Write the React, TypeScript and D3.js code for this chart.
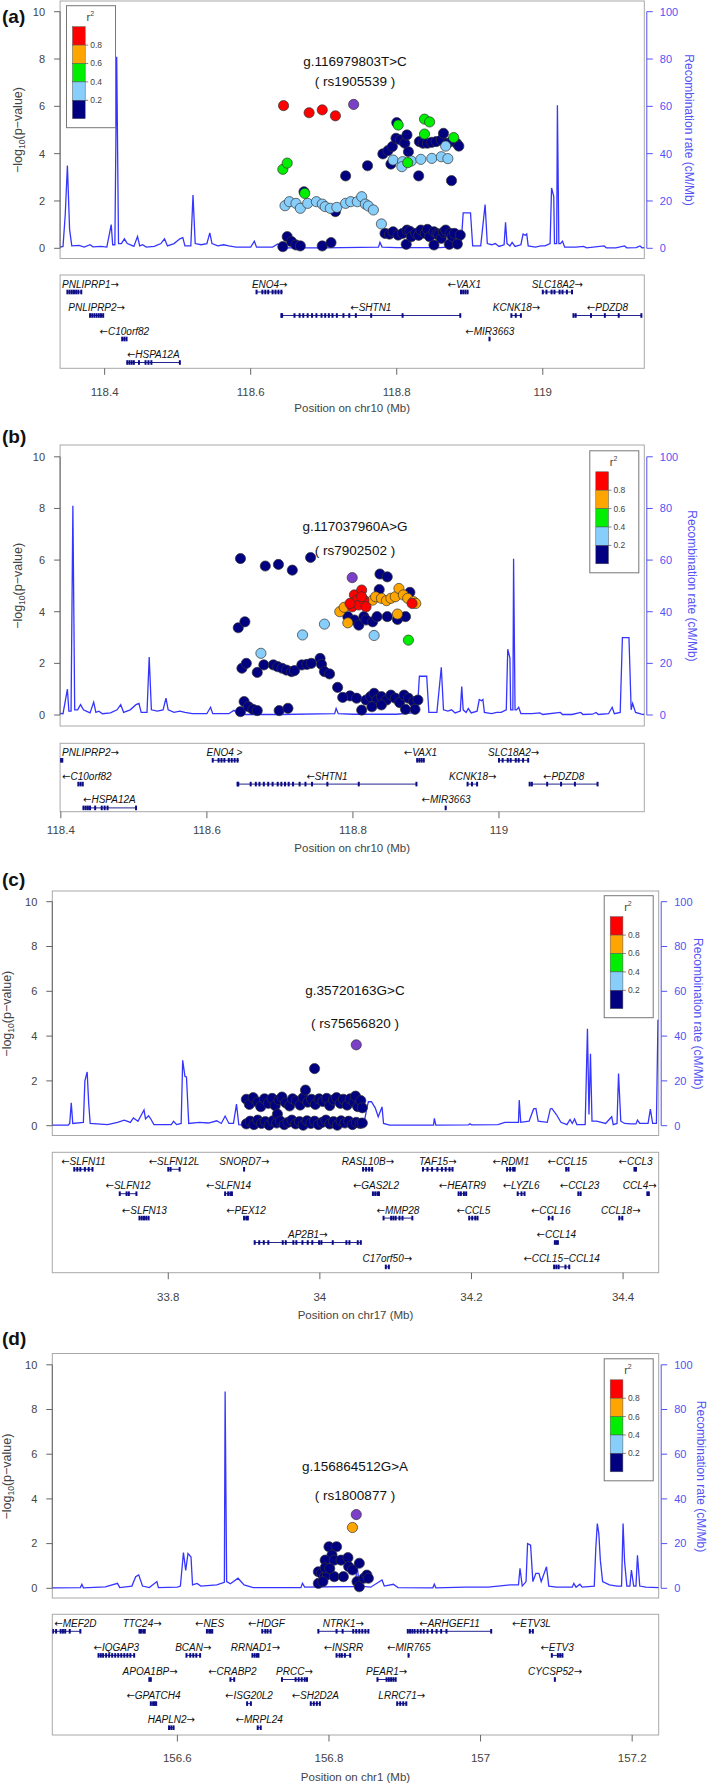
import React from "react";
import * as d3 from "d3";

// ---------------- DATA ----------------
const Y_TICKS = [0, 2, 4, 6, 8, 10];
const RECOMB_TICKS = [0, 20, 40, 60, 80, 100];
const R2_BREAKS = [0.2, 0.4, 0.6, 0.8];
const R2_COLORS = ["#000080", "#87CEFA", "#00EE00", "#FFA500", "#FF0000"];
const INDEX_COLOR = "#7B3FC8";

const X_TICKS_A = [118.4, 118.6, 118.8, 119];
const X_TICKS_B = [118.4, 118.6, 118.8, 119];
const X_TICKS_C = [33.8, 34, 34.2, 34.4];
const X_TICKS_D = [156.6, 156.8, 157, 157.2];

// recombination rate (Mb, cM/Mb)
const RECOMB_CHR10: [number, number][] = [
  [118.339, 0.5], [118.343, 0.8], [118.346, 14], [118.349, 35], [118.352, 8], [118.355, 1],
  [118.365, 1.2], [118.372, 0.5], [118.380, 1.5], [118.384, 0.6], [118.395, 0.8], [118.403, 0.5],
  [118.409, 10], [118.411, 1.5], [118.414, 1.5], [118.4165, 81], [118.419, 2], [118.423, 2],
  [118.427, 4], [118.431, 2], [118.437, 1.2], [118.440, 0.8], [118.445, 5], [118.448, 1],
  [118.452, 1.5], [118.457, 0.5], [118.468, 0.8], [118.477, 2], [118.482, 4], [118.486, 1],
  [118.495, 2], [118.503, 4], [118.507, 4.5], [118.510, 1], [118.518, 1], [118.521, 22.5],
  [118.524, 2], [118.532, 1.5], [118.540, 2], [118.544, 6.5], [118.547, 2], [118.555, 1],
  [118.563, 1.5], [118.570, 1], [118.580, 0.5], [118.600, 0.5], [118.605, 3], [118.608, 0.5],
  [118.630, 0.5], [118.637, 1.8], [118.645, 0.2], [118.700, 0.2], [118.775, 0.5], [118.777, 2.5],
  [118.780, 0.5], [118.800, 0.3], [118.860, 0.3], [118.888, 1], [118.891, 15], [118.901, 15],
  [118.904, 1], [118.915, 1], [118.921, 18.5], [118.924, 2], [118.930, 1.5], [118.935, 2],
  [118.940, 0.8], [118.947, 1.5], [118.949, 11], [118.951, 2], [118.955, 1], [118.958, 2.5],
  [118.962, 0.8], [118.970, 1.5], [118.973, 6], [118.976, 5.5], [118.978, 6], [118.980, 1],
  [118.990, 0.5], [118.997, 1], [119.003, 1], [119.010, 2], [119.012, 25.5], [119.015, 22],
  [119.016, 2], [119.019, 2], [119.020, 60.5], [119.022, 2], [119.024, 2], [119.027, 3],
  [119.030, 0.5], [119.045, 0.5], [119.056, 0.8], [119.060, 0.2], [119.084, 1], [119.087, 0.2],
  [119.100, 0.2], [119.112, 1], [119.115, 0.2], [119.128, 0.3], [119.133, 1], [119.136, 0.2],
  [119.150, 0.5], [119.155, 3], [119.158, 0.5], [119.166, 1], [119.169, 30], [119.178, 30],
  [119.181, 2], [119.183, 4.5], [119.187, 1], [119.195, 0.3], [119.199, 0.2],
];

const RECOMB_CHR17: [number, number][] = [
  [33.647, 0.3], [33.668, 0.3], [33.670, 1], [33.672, 10.2], [33.674, 1], [33.688, 1.5],
  [33.690, 20], [33.693, 24], [33.695, 10], [33.697, 1], [33.720, 0.5], [33.733, 1.5],
  [33.742, 2.5], [33.750, 1.5], [33.754, 3.5], [33.760, 2], [33.768, 7], [33.770, 3],
  [33.774, 4.4], [33.777, 3], [33.781, 0.5], [33.804, 0.5], [33.807, 2], [33.811, 0.5],
  [33.817, 1], [33.819, 29.2], [33.822, 22], [33.824, 21.8], [33.827, 1], [33.841, 1.5],
  [33.853, 1.2], [33.864, 2.2], [33.870, 1], [33.875, 4.3], [33.880, 1], [33.886, 1],
  [33.890, 9.6], [33.893, 0.5], [33.900, 0.3], [34.000, 0.3], [34.058, 0.5], [34.062, 8],
  [34.064, 10.7], [34.068, 10.7], [34.073, 8], [34.077, 4], [34.082, 8.4], [34.084, 1],
  [34.092, 0.3], [34.150, 0.3], [34.151, 3.3], [34.153, 0.3], [34.196, 0.4], [34.198, 0.9],
  [34.200, 0.4], [34.235, 0.5], [34.244, 1.5], [34.262, 1.5], [34.263, 11.4], [34.265, 1.5],
  [34.276, 2], [34.282, 7.5], [34.285, 7.7], [34.288, 2], [34.300, 1.5], [34.304, 7.5],
  [34.306, 7.7], [34.312, 5], [34.318, 1.5], [34.326, 0.5], [34.330, 2.8], [34.333, 1],
  [34.336, 3], [34.339, 0.5], [34.350, 0.5], [34.353, 43.3], [34.355, 5], [34.357, 32.1],
  [34.359, 2], [34.365, 2], [34.377, 1], [34.385, 4], [34.387, 0.5], [34.392, 1],
  [34.394, 23.3], [34.397, 2], [34.402, 1], [34.410, 0.8], [34.417, 0.8], [34.419, 2.5],
  [34.422, 1], [34.433, 1], [34.436, 7.4], [34.439, 1], [34.444, 1], [34.446, 47], [34.447, 47],
];

const RECOMB_CHR1: [number, number][] = [
  [156.435, 0.2], [156.472, 0.3], [156.474, 1.8], [156.476, 0.2], [156.505, 0.6], [156.521, 2.2],
  [156.524, 0.3], [156.540, 1], [156.545, 5.2], [156.549, 6], [156.554, 1], [156.563, 0.3],
  [156.573, 3], [156.575, 0.3], [156.600, 0.5], [156.604, 1], [156.608, 16], [156.611, 8],
  [156.614, 15.6], [156.618, 14], [156.620, 1.5], [156.626, 2.2], [156.631, 1], [156.652, 1.5],
  [156.662, 2.7], [156.663, 88], [156.665, 3], [156.670, 2], [156.680, 4.5], [156.688, 1.5],
  [156.700, 0.3], [156.763, 0.3], [156.765, 2.2], [156.768, 0.5], [156.835, 0.8],
  [156.837, 11], [156.840, 1], [156.855, 0.5], [156.870, 3.7], [156.873, 1], [156.885, 1.8],
  [156.891, 0.3], [156.937, 0.2], [156.939, 1.8], [156.941, 0.2], [156.980, 0.5], [157.010, 0.5],
  [157.039, 1.5], [157.050, 1.5], [157.052, 8.9], [157.055, 1], [157.060, 3], [157.062, 20],
  [157.066, 19.3], [157.069, 3], [157.073, 6.7], [157.077, 6.7], [157.080, 3], [157.087, 9.6],
  [157.090, 1], [157.100, 0.5], [157.121, 0.5], [157.123, 2.2], [157.126, 0.5], [157.131, 1.8],
  [157.134, 0.5], [157.150, 1], [157.152, 17.8], [157.154, 29], [157.156, 24.5], [157.158, 12.6],
  [157.161, 3], [157.170, 1.5], [157.180, 1], [157.186, 1], [157.188, 29], [157.190, 11.9],
  [157.193, 1], [157.197, 1], [157.199, 8.2], [157.202, 1], [157.205, 1], [157.207, 14.8],
  [157.210, 1], [157.218, 0.5], [157.235, 0.3],
];

// SNPs: [position Mb, -log10 p, r2]
const SNPS_A: [number, number, number][] = [
  [118.644, 0.07, 0.1], [118.650, 0.49, 0.1], [118.656, 0.28, 0.1], [118.662, 0.14, 0.1], [118.668, 0.1, 0.1],
  [118.698, 0.1, 0.1], [118.710, 0.24, 0.1],
  [118.784, 0.63, 0.1], [118.790, 0.6, 0.1], [118.795, 0.7, 0.1], [118.802, 0.56, 0.1], [118.808, 0.63, 0.1],
  [118.814, 0.77, 0.1], [118.813, 0.17, 0.1], [118.818, 0.72, 0.1], [118.820, 0.49, 0.1], [118.826, 0.63, 0.1],
  [118.830, 0.55, 0.1], [118.833, 0.77, 0.1], [118.839, 0.63, 0.1], [118.842, 0.8, 0.1], [118.845, 0.49, 0.1],
  [118.851, 0.7, 0.1], [118.851, 0.14, 0.1], [118.855, 0.62, 0.1], [118.857, 0.56, 0.1], [118.861, 0.42, 0.1],
  [118.864, 0.68, 0.1], [118.867, 0.77, 0.1], [118.873, 0.63, 0.1], [118.872, 0.17, 0.1], [118.876, 0.5, 0.1],
  [118.879, 0.63, 0.1], [118.887, 0.56, 0.1], [118.883, 0.18, 0.1],
  [118.716, 1.55, 0.1], [118.673, 2.39, 0.1], [118.730, 3.06, 0.1], [118.760, 3.49, 0.1],
  [118.830, 3.06, 0.1], [118.875, 2.86, 0.1], [118.800, 5.31, 0.1], [118.781, 3.99, 0.1], [118.788, 4.13, 0.1],
  [118.794, 4.3, 0.1], [118.799, 4.65, 0.1], [118.805, 4.58, 0.1], [118.811, 4.44, 0.1], [118.814, 4.79, 0.1],
  [118.816, 4.08, 0.1], [118.792, 3.56, 0.1], [118.831, 4.51, 0.1], [118.836, 4.44, 0.1], [118.842, 4.44, 0.1],
  [118.848, 4.48, 0.1], [118.854, 4.51, 0.1], [118.861, 4.58, 0.1], [118.864, 4.86, 0.1], [118.870, 4.44, 0.1],
  [118.876, 4.55, 0.1], [118.882, 4.44, 0.1], [118.885, 4.32, 0.1],
  [118.647, 1.8, 0.3], [118.653, 1.97, 0.3], [118.662, 1.9, 0.3], [118.668, 1.69, 0.3], [118.678, 1.9, 0.3],
  [118.690, 1.97, 0.3], [118.698, 1.87, 0.3], [118.702, 1.76, 0.3], [118.709, 1.69, 0.3], [118.718, 1.73, 0.3],
  [118.730, 1.9, 0.3], [118.737, 1.97, 0.3], [118.746, 1.97, 0.3], [118.752, 2.18, 0.3], [118.757, 1.87, 0.3],
  [118.761, 1.79, 0.3], [118.768, 1.62, 0.3], [118.779, 1.03, 0.3], [118.795, 3.73, 0.3], [118.808, 3.66, 0.3],
  [118.807, 3.45, 0.3], [118.820, 3.69, 0.3], [118.833, 3.76, 0.3], [118.848, 3.8, 0.3], [118.861, 3.87, 0.3],
  [118.870, 3.79, 0.3], [118.867, 4.32, 0.3],
  [118.644, 3.34, 0.5], [118.650, 3.6, 0.5], [118.674, 2.32, 0.5], [118.802, 5.21, 0.5], [118.838, 5.46, 0.5],
  [118.845, 5.34, 0.5], [118.838, 4.83, 0.5], [118.878, 4.68, 0.5], [118.815, 3.62, 0.5],
  [118.645, 6.03, 0.9], [118.680, 5.73, 0.9], [118.698, 5.85, 0.9], [118.716, 5.6, 0.9],
];
const INDEX_A: [number, number] = [118.741, 6.08];

const SNPS_B: [number, number, number][] = [
  [118.646, 0.13, 0.1], [118.651, 0.52, 0.1], [118.657, 0.32, 0.1], [118.663, 0.22, 0.1], [118.669, 0.17, 0.1],
  [118.699, 0.17, 0.1], [118.711, 0.26, 0.1],
  [118.796, 0.74, 0.1], [118.805, 0.65, 0.1], [118.812, 0.19, 0.1], [118.818, 0.58, 0.1], [118.824, 0.71, 0.1],
  [118.829, 0.84, 0.1], [118.833, 0.58, 0.1], [118.839, 0.71, 0.1], [118.846, 0.58, 0.1], [118.852, 0.77, 0.1],
  [118.858, 0.65, 0.1], [118.864, 0.48, 0.1], [118.870, 0.77, 0.1], [118.876, 0.65, 0.1], [118.883, 0.52, 0.1],
  [118.889, 0.58, 0.1], [118.872, 0.22, 0.1], [118.885, 0.22, 0.1], [118.826, 0.32, 0.1], [118.839, 0.39, 0.1],
  [118.648, 1.81, 0.1], [118.654, 2.0, 0.1], [118.669, 1.65, 0.1], [118.678, 1.94, 0.1], [118.691, 1.94, 0.1],
  [118.697, 1.87, 0.1], [118.703, 1.81, 0.1], [118.709, 1.74, 0.1], [118.716, 1.68, 0.1], [118.720, 1.72, 0.1],
  [118.730, 1.94, 0.1], [118.737, 1.96, 0.1], [118.743, 2.0, 0.1], [118.755, 2.19, 0.1], [118.757, 1.96, 0.1],
  [118.761, 1.68, 0.1], [118.768, 1.59, 0.1], [118.779, 1.07, 0.1], [118.786, 0.68, 0.1],
  [118.646, 6.06, 0.1], [118.680, 5.77, 0.1], [118.698, 5.83, 0.1], [118.717, 5.61, 0.1], [118.742, 6.1, 0.1],
  [118.643, 3.38, 0.1], [118.652, 3.61, 0.1], [118.837, 5.46, 0.1], [118.847, 5.35, 0.1], [118.836, 4.86, 0.1],
  [118.878, 4.75, 0.1], [118.793, 3.81, 0.1], [118.802, 3.68, 0.1], [118.808, 3.48, 0.1], [118.815, 3.81, 0.1],
  [118.818, 3.68, 0.1], [118.827, 3.61, 0.1], [118.833, 3.81, 0.1], [118.847, 3.81, 0.1], [118.861, 3.70, 0.1],
  [118.872, 3.81, 0.1],
  [118.674, 2.39, 0.3], [118.731, 3.1, 0.3], [118.761, 3.52, 0.3], [118.829, 3.08, 0.3],
  [118.876, 2.9, 0.5],
  [118.782, 4.0, 0.7], [118.788, 4.17, 0.7], [118.793, 3.57, 0.7], [118.827, 4.45, 0.7], [118.831, 4.58, 0.7],
  [118.839, 4.52, 0.7], [118.846, 4.43, 0.7], [118.852, 4.52, 0.7], [118.858, 4.58, 0.7], [118.863, 4.9, 0.7],
  [118.869, 4.65, 0.7], [118.875, 4.52, 0.7], [118.883, 4.39, 0.7], [118.886, 4.32, 0.7], [118.861, 3.91, 0.7],
  [118.802, 4.65, 0.9], [118.812, 4.84, 0.9], [118.805, 4.45, 0.9], [118.799, 4.19, 0.9], [118.808, 4.26, 0.9],
  [118.815, 4.45, 0.9], [118.818, 4.19, 0.9], [118.796, 4.32, 0.9], [118.812, 4.58, 0.9], [118.881, 4.32, 0.9],
];
const INDEX_B: [number, number] = [118.799, 5.32];

const SNPS_C: [number, number, number][] = [
  [33.903, 1.18, 0.1], [33.907, 0.95, 0.1], [33.912, 1.25, 0.1], [33.918, 1.05, 0.1], [33.922, 0.85, 0.1],
  [33.927, 1.2, 0.1], [33.932, 1.0, 0.1], [33.937, 1.22, 0.1], [33.941, 0.9, 0.1], [33.946, 1.15, 0.1],
  [33.950, 1.28, 0.1], [33.955, 1.02, 0.1], [33.960, 0.88, 0.1], [33.964, 1.2, 0.1], [33.969, 1.1, 0.1],
  [33.974, 0.92, 0.1], [33.978, 1.25, 0.1], [33.981, 1.59, 0.1], [33.984, 1.05, 0.1], [33.989, 1.18, 0.1],
  [33.993, 2.55, 0.1], [33.994, 0.95, 0.1], [33.999, 1.2, 0.1], [34.004, 1.08, 0.1], [34.009, 1.22, 0.1],
  [34.013, 0.9, 0.1], [34.018, 1.15, 0.1], [34.022, 1.25, 0.1], [34.027, 1.0, 0.1], [34.031, 1.18, 0.1],
  [34.036, 0.92, 0.1], [34.040, 1.2, 0.1], [34.045, 1.05, 0.1], [34.047, 1.32, 0.1], [34.050, 0.85, 0.1],
  [34.054, 1.12, 0.1], [34.056, 0.8, 0.1],
  [33.903, 0.08, 0.1], [33.908, 0.2, 0.1], [33.913, 0.05, 0.1], [33.918, 0.25, 0.1], [33.923, 0.1, 0.1],
  [33.928, 0.18, 0.1], [33.933, 0.03, 0.1], [33.938, 0.22, 0.1], [33.943, 0.12, 0.1], [33.944, 0.52, 0.1],
  [33.948, 0.2, 0.1], [33.953, 0.05, 0.1], [33.958, 0.15, 0.1], [33.963, 0.25, 0.1], [33.968, 0.08, 0.1],
  [33.973, 0.18, 0.1], [33.978, 0.02, 0.1], [33.983, 0.22, 0.1], [33.988, 0.1, 0.1], [33.993, 0.2, 0.1],
  [33.998, 0.05, 0.1], [34.003, 0.15, 0.1], [34.008, 0.25, 0.1], [34.013, 0.08, 0.1], [34.018, 0.18, 0.1],
  [34.023, 0.02, 0.1], [34.028, 0.22, 0.1], [34.033, 0.12, 0.1], [34.038, 0.2, 0.1], [34.043, 0.05, 0.1],
  [34.048, 0.15, 0.1], [34.053, 0.1, 0.1], [34.056, 0.12, 0.1],
];
const INDEX_C: [number, number] = [34.048, 3.61];

const SNPS_D: [number, number, number][] = [
  [156.800, 1.86, 0.1], [156.810, 1.86, 0.1], [156.804, 1.49, 0.1], [156.795, 1.26, 0.1], [156.807, 1.26, 0.1],
  [156.816, 1.26, 0.1], [156.825, 1.37, 0.1], [156.826, 0.97, 0.1], [156.831, 0.82, 0.1], [156.840, 1.12, 0.1],
  [156.786, 0.74, 0.1], [156.790, 0.67, 0.1], [156.794, 0.52, 0.1], [156.798, 0.62, 0.1], [156.786, 0.22, 0.1],
  [156.792, 0.3, 0.1], [156.807, 0.52, 0.1], [156.819, 0.52, 0.1], [156.837, 0.3, 0.1], [156.840, 0.07, 0.1],
  [156.846, 0.45, 0.1], [156.850, 0.59, 0.1], [156.852, 0.45, 0.1], [156.795, 0.92, 0.1], [156.801, 0.89, 0.1],
  [156.831, 2.72, 0.7],
];
const INDEX_D: [number, number] = [156.836, 3.30];

type Gene = { name: string; start: number; end: number; strand: number; track: number; exons: number[]; text?: string };

const GENES_A: Gene[] = [
  { name: "PNLIPRP1", start: 118.349, end: 118.368, strand: 1, track: 0, exons: [118.349, 118.352, 118.355, 118.358, 118.361, 118.364, 118.368] },
  { name: "ENO4", start: 118.608, end: 118.644, strand: 1, track: 0, exons: [118.608, 118.616, 118.620, 118.624, 118.630, 118.634, 118.638, 118.642] },
  { name: "VAX1", start: 118.887, end: 118.898, strand: -1, track: 0, exons: [118.888, 118.891, 118.894, 118.897] },
  { name: "SLC18A2", start: 119.000, end: 119.040, strand: 1, track: 0, exons: [119.000, 119.005, 119.012, 119.016, 119.023, 119.027, 119.033, 119.040] },
  { name: "PNLIPRP2", start: 118.380, end: 118.398, strand: 1, track: 1, exons: [118.380, 118.383, 118.386, 118.389, 118.392, 118.395, 118.398] },
  { name: "SHTN1", start: 118.642, end: 118.887, strand: -1, track: 1, exons: [118.642, 118.643, 118.660, 118.667, 118.672, 118.678, 118.684, 118.690, 118.697, 118.702, 118.707, 118.712, 118.718, 118.727, 118.735, 118.744, 118.765, 118.808, 118.887] },
  { name: "KCNK18", start: 118.957, end: 118.971, strand: 1, track: 1, exons: [118.957, 118.963, 118.970] },
  { name: "PDZD8", start: 119.042, end: 119.135, strand: -1, track: 1, exons: [119.042, 119.045, 119.066, 119.085, 119.104, 119.135] },
  { name: "C10orf82", start: 118.424, end: 118.430, strand: -1, track: 2, exons: [118.424, 118.427, 118.430] },
  { name: "MIR3663", start: 118.927, end: 118.928, strand: -1, track: 2, exons: [118.927] },
  { name: "HSPA12A", start: 118.430, end: 118.503, strand: -1, track: 3, exons: [118.431, 118.434, 118.437, 118.440, 118.447, 118.456, 118.460, 118.464, 118.503] },
];

const GENES_B: Gene[] = [
  { name: "PNLIPRP2", start: 118.380, end: 118.402, strand: 1, track: 0, exons: [118.380, 118.383, 118.386, 118.389, 118.392, 118.395, 118.400, 118.402] },
  { name: "ENO4", text: "ENO4  >", start: 118.608, end: 118.644, strand: 1, track: 0, exons: [118.608, 118.616, 118.620, 118.624, 118.630, 118.634, 118.638, 118.642] },
  { name: "VAX1", start: 118.887, end: 118.898, strand: -1, track: 0, exons: [118.888, 118.891, 118.894, 118.897] },
  { name: "SLC18A2", start: 119.000, end: 119.040, strand: 1, track: 0, exons: [119.000, 119.005, 119.012, 119.016, 119.023, 119.027, 119.033, 119.040] },
  { name: "C10orf82", start: 118.424, end: 118.430, strand: -1, track: 1, exons: [118.424, 118.427, 118.430] },
  { name: "SHTN1", start: 118.642, end: 118.887, strand: -1, track: 1, exons: [118.642, 118.643, 118.660, 118.667, 118.672, 118.678, 118.684, 118.690, 118.697, 118.702, 118.707, 118.712, 118.718, 118.727, 118.735, 118.744, 118.765, 118.808, 118.887] },
  { name: "KCNK18", start: 118.957, end: 118.971, strand: 1, track: 1, exons: [118.957, 118.963, 118.970] },
  { name: "PDZD8", start: 119.042, end: 119.135, strand: -1, track: 1, exons: [119.042, 119.045, 119.066, 119.085, 119.104, 119.135] },
  { name: "HSPA12A", start: 118.430, end: 118.503, strand: -1, track: 2, exons: [118.431, 118.434, 118.437, 118.440, 118.447, 118.456, 118.460, 118.464, 118.503] },
  { name: "MIR3663", start: 118.927, end: 118.928, strand: -1, track: 2, exons: [118.927] },
];

const GENES_C: Gene[] = [
  { name: "SLFN11", start: 33.676, end: 33.700, strand: -1, track: 0, exons: [33.676, 33.680, 33.684, 33.690, 33.695, 33.700] },
  { name: "SLFN12L", start: 33.800, end: 33.815, strand: -1, track: 0, exons: [33.800, 33.803, 33.815] },
  { name: "SNORD7", start: 33.900, end: 33.9005, strand: 1, track: 0, exons: [33.900] },
  { name: "RASL10B", start: 34.057, end: 34.070, strand: 1, track: 0, exons: [34.057, 34.061, 34.065, 34.069] },
  { name: "TAF15", start: 34.136, end: 34.175, strand: 1, track: 0, exons: [34.136, 34.142, 34.148, 34.155, 34.161, 34.166, 34.171, 34.175] },
  { name: "RDM1", start: 34.247, end: 34.257, strand: -1, track: 0, exons: [34.247, 34.251, 34.255, 34.257] },
  { name: "CCL15", start: 34.325, end: 34.328, strand: -1, track: 0, exons: [34.325, 34.328] },
  { name: "CCL3", start: 34.415, end: 34.418, strand: -1, track: 0, exons: [34.415, 34.417] },
  { name: "SLFN12", start: 33.736, end: 33.758, strand: -1, track: 1, exons: [33.736, 33.745, 33.748, 33.758] },
  { name: "SLFN14", start: 33.875, end: 33.884, strand: -1, track: 1, exons: [33.875, 33.879, 33.882, 33.884] },
  { name: "GAS2L2", start: 34.070, end: 34.078, strand: -1, track: 1, exons: [34.070, 34.073, 34.076, 34.078] },
  { name: "HEATR9", start: 34.183, end: 34.193, strand: -1, track: 1, exons: [34.183, 34.186, 34.190, 34.193] },
  { name: "LYZL6", start: 34.261, end: 34.270, strand: -1, track: 1, exons: [34.261, 34.266, 34.270] },
  { name: "CCL23", start: 34.341, end: 34.344, strand: -1, track: 1, exons: [34.341, 34.344] },
  { name: "CCL4", start: 34.432, end: 34.434, strand: 1, track: 1, exons: [34.432, 34.434] },
  { name: "SLFN13", start: 33.762, end: 33.775, strand: -1, track: 2, exons: [33.762, 33.765, 33.768, 33.771, 33.774] },
  { name: "PEX12", start: 33.900, end: 33.905, strand: -1, track: 2, exons: [33.900, 33.903, 33.905] },
  { name: "MMP28", start: 34.084, end: 34.122, strand: -1, track: 2, exons: [34.084, 34.094, 34.097, 34.100, 34.105, 34.109, 34.122] },
  { name: "CCL5", start: 34.197, end: 34.208, strand: -1, track: 2, exons: [34.197, 34.201, 34.205, 34.208] },
  { name: "CCL16", start: 34.302, end: 34.307, strand: -1, track: 2, exons: [34.302, 34.307] },
  { name: "CCL18", start: 34.395, end: 34.399, strand: 1, track: 2, exons: [34.395, 34.399] },
  { name: "AP2B1", start: 33.914, end: 34.054, strand: 1, track: 3, exons: [33.914, 33.920, 33.926, 33.932, 33.951, 33.955, 33.965, 33.969, 33.977, 33.984, 33.990, 33.999, 34.002, 34.017, 34.035, 34.039, 34.050, 34.054] },
  { name: "CCL14", start: 34.310, end: 34.314, strand: -1, track: 3, exons: [34.310, 34.312, 34.314] },
  { name: "C17orf50", start: 34.087, end: 34.091, strand: 1, track: 4, exons: [34.087, 34.091] },
  { name: "CCL15\u2212CCL14", start: 34.309, end: 34.329, strand: -1, track: 4, exons: [34.309, 34.312, 34.315, 34.324, 34.329] },
];

const GENES_D: Gene[] = [
  { name: "MEF2D", start: 156.436, end: 156.472, strand: -1, track: 0, exons: [156.436, 156.440, 156.446, 156.449, 156.452, 156.458, 156.472] },
  { name: "TTC24", start: 156.550, end: 156.557, strand: 1, track: 0, exons: [156.550, 156.552, 156.555, 156.557] },
  { name: "NES", start: 156.639, end: 156.646, strand: -1, track: 0, exons: [156.639, 156.642, 156.644, 156.646] },
  { name: "HDGF", start: 156.712, end: 156.723, strand: -1, track: 0, exons: [156.712, 156.716, 156.719, 156.723] },
  { name: "NTRK1", start: 156.786, end: 156.852, strand: 1, track: 0, exons: [156.786, 156.810, 156.818, 156.832, 156.836, 156.840, 156.844, 156.848, 156.852] },
  { name: "ARHGEF11", start: 156.904, end: 157.014, strand: -1, track: 0, exons: [156.904, 156.907, 156.910, 156.913, 156.917, 156.921, 156.925, 156.930, 156.936, 156.942, 156.948, 156.955, 157.014] },
  { name: "ETV3L", start: 157.065, end: 157.069, strand: -1, track: 0, exons: [157.065, 157.069] },
  { name: "IQGAP3", start: 156.496, end: 156.543, strand: -1, track: 1, exons: [156.496, 156.499, 156.502, 156.506, 156.510, 156.514, 156.518, 156.522, 156.526, 156.530, 156.534, 156.538, 156.543] },
  { name: "BCAN", start: 156.612, end: 156.630, strand: 1, track: 1, exons: [156.612, 156.617, 156.621, 156.625, 156.630] },
  { name: "RRNAD1", start: 156.699, end: 156.707, strand: 1, track: 1, exons: [156.699, 156.702, 156.705, 156.707] },
  { name: "INSRR", start: 156.810, end: 156.828, strand: -1, track: 1, exons: [156.810, 156.814, 156.817, 156.821, 156.828] },
  { name: "MIR765", start: 156.905, end: 156.9055, strand: -1, track: 1, exons: [156.905] },
  { name: "ETV3", start: 157.094, end: 157.108, strand: -1, track: 1, exons: [157.094, 157.102, 157.105, 157.108] },
  { name: "APOA1BP", start: 156.563, end: 156.565, strand: 1, track: 2, exons: [156.563, 156.565] },
  { name: "CRABP2", start: 156.670, end: 156.675, strand: -1, track: 2, exons: [156.670, 156.675] },
  { name: "PRCC", start: 156.738, end: 156.771, strand: 1, track: 2, exons: [156.738, 156.756, 156.760, 156.764, 156.768, 156.771] },
  { name: "PEAR1", start: 156.864, end: 156.888, strand: 1, track: 2, exons: [156.864, 156.876, 156.879, 156.882, 156.885, 156.888] },
  { name: "CYCSP52", start: 157.098, end: 157.0985, strand: 1, track: 2, exons: [157.098] },
  { name: "GPATCH4", start: 156.565, end: 156.572, strand: -1, track: 3, exons: [156.565, 156.568, 156.570, 156.572] },
  { name: "ISG20L2", start: 156.692, end: 156.697, strand: -1, track: 3, exons: [156.692, 156.697] },
  { name: "SH2D2A", start: 156.776, end: 156.788, strand: -1, track: 3, exons: [156.776, 156.780, 156.784, 156.788] },
  { name: "LRRC71", start: 156.890, end: 156.902, strand: 1, track: 3, exons: [156.890, 156.894, 156.898, 156.902] },
  { name: "HAPLN2", start: 156.589, end: 156.595, strand: 1, track: 4, exons: [156.589, 156.592, 156.595] },
  { name: "MRPL24", start: 156.706, end: 156.710, strand: -1, track: 4, exons: [156.706, 156.710] },
];

// ---------------- LAYOUT ----------------
const FONT = "'Liberation Sans', Arial, Helvetica, sans-serif";
const ARROW_FONT = "'DejaVu Sans', sans-serif";
const AXIS_BLUE = "#5252f5";
const LINE_BLUE = "#3535ff";
const GENE_COLOR = "#0c0c86";
const BOX_GRAY = "#a8a8a8";
const TXT = "#444";

type Cfg = {
  id: string; label: string; chrom: string; variant: string; rsid: string;
  xDomain: [number, number]; left: number; right: number; y10: number; y0: number;
  boxTop: number; boxBottom: number; gTop: number; gBottom: number; rowH: number;
  tickLabelY: number; xTitleY: number; labelY: number; title1Y: number; title2Y: number;
  leftTitleX: number; rightTitleX: number; legend: "left" | "right";
};

const CFG_A: Cfg = { id: "a", label: "(a)", chrom: "chr10", variant: "g.116979803T>C", rsid: "( rs1905539 )",
  xDomain: [118.339, 119.139], left: 60.1, right: 644.3, y10: 11.7, y0: 248.3, boxTop: 1, boxBottom: 258.5,
  gTop: 275, gBottom: 368.3, rowH: 23.5, tickLabelY: 391.7, xTitleY: 408.3, labelY: 23, title1Y: 61.7, title2Y: 81,
  leftTitleX: 18, rightTitleX: 689.5, legend: "left" };
const CFG_B: Cfg = { id: "b", label: "(b)", chrom: "chr10", variant: "g.117037960A>G", rsid: "( rs7902502 )",
  xDomain: [118.399, 119.199], left: 60.1, right: 644.3, y10: 456.8, y0: 715, boxTop: 445, boxBottom: 726,
  gTop: 743.3, gBottom: 811.7, rowH: 23.8, tickLabelY: 830, xTitleY: 848.3, labelY: 443, title1Y: 526, title2Y: 550,
  leftTitleX: 18, rightTitleX: 692, legend: "right" };
const CFG_C: Cfg = { id: "c", label: "(c)", chrom: "chr17", variant: "g.35720163G>C", rsid: "( rs75656820 )",
  xDomain: [33.647, 34.447], left: 52.3, right: 658.7, y10: 901.7, y0: 1125.7, boxTop: 891, boxBottom: 1135.5,
  gTop: 1152.3, gBottom: 1272.7, rowH: 24.4, tickLabelY: 1296.7, xTitleY: 1315, labelY: 886, title1Y: 990.7, title2Y: 1023.3,
  leftTitleX: 7, rightTitleX: 698.6, legend: "right" };
const CFG_D: Cfg = { id: "d", label: "(d)", chrom: "chr1", variant: "g.156864512G>A", rsid: "( rs1800877 )",
  xDomain: [156.435, 157.235], left: 52.3, right: 658.7, y10: 1364.8, y0: 1588.3, boxTop: 1353.5, boxBottom: 1598,
  gTop: 1614.3, gBottom: 1735, rowH: 24.1, tickLabelY: 1758.3, xTitleY: 1776.7, labelY: 1345, title1Y: 1466.7, title2Y: 1495,
  leftTitleX: 7, rightTitleX: 700.8, legend: "right" };

let ctx: CanvasRenderingContext2D | null = null;
function textWidth(t: string, font: string): number {
  if (!ctx) ctx = document.createElement("canvas").getContext("2d");
  if (!ctx) return t.length * 6;
  ctx.font = font;
  return ctx.measureText(t).width;
}

function r2Color(r2: number): string {
  const i = d3.bisectRight(R2_BREAKS, r2);
  return R2_COLORS[i];
}

function Panel({ cfg, snps, index, recomb, genes, xTicks }: {
  cfg: Cfg; snps: [number, number, number][]; index: [number, number];
  recomb: [number, number][]; genes: Gene[]; xTicks: number[];
}) {
  const x = d3.scaleLinear().domain(cfg.xDomain).range([cfg.left, cfg.right]);
  const y = d3.scaleLinear().domain([0, 10]).range([cfg.y0, cfg.y10]);
  const yr = d3.scaleLinear().domain([0, 100]).range([cfg.y0, cfg.y10]);
  const line = d3.line<[number, number]>().x((d) => x(d[0])).y((d) => yr(d[1]));
  const clip = `clip-${cfg.id}`;
  const gclip = `gclip-${cfg.id}`;
  const midY = (cfg.y0 + cfg.y10) / 2;
  const midX = (cfg.left + cfg.right) / 2;
  const sorted = [...snps].sort((a, b) => a[2] - b[2]);
  const rAxisX = cfg.right + 2.5;

  // legend
  const lgW = 49, lgH = 122;
  const lgX = cfg.legend === "left" ? cfg.left + 6.4 : cfg.right - 5.5 - lgW;
  const lgY = cfg.y10 - 6;
  const blkX = lgX + 6;
  const blkW = 12.7;
  const blkH = 18.4;
  const blkTop = lgY + 21;
  const legendBins = R2_COLORS.map((c, i) => ({ c, i })).reverse();

  const gFont = `italic 10px ${FONT}`;
  const aFont = `10px ${ARROW_FONT}`;
  const ARROW_R = "\u2192";
  const ARROW_L = "\u2190";

  return (
    <g>
      <defs>
        <clipPath id={clip}>
          <rect x={cfg.left} y={cfg.boxTop} width={cfg.right - cfg.left} height={cfg.boxBottom - cfg.boxTop} />
        </clipPath>
        <clipPath id={gclip}>
          <rect x={cfg.left} y={cfg.gTop} width={cfg.right - cfg.left} height={cfg.gBottom - cfg.gTop} />
        </clipPath>
      </defs>
      {/* panel label */}
      <text x={2} y={cfg.labelY} fontFamily={FONT} fontWeight="bold" fontSize={19} fill="#111">{cfg.label}</text>

      {/* plot box */}
      <rect x={cfg.left} y={cfg.boxTop} width={cfg.right - cfg.left} height={cfg.boxBottom - cfg.boxTop}
        fill="none" stroke={BOX_GRAY} strokeWidth={1} />

      {/* recombination line */}
      <path d={line(recomb) || ""} fill="none" stroke={LINE_BLUE} strokeWidth={1.3} clipPath={`url(#${clip})`} />

      {/* SNPs */}
      <g clipPath={`url(#${clip})`}>
        {sorted.map((s, i) => (
          <circle key={i} cx={x(s[0])} cy={y(s[1])} r={5.1} fill={r2Color(s[2])} stroke="#333" strokeWidth={0.7} />
        ))}
        <circle cx={x(index[0])} cy={y(index[1])} r={5.1} fill={INDEX_COLOR} stroke="#333" strokeWidth={0.7} />
      </g>

      {/* left axis */}
      <line x1={cfg.left} x2={cfg.left} y1={y(0)} y2={y(10)} stroke="#666" strokeWidth={1} />
      {Y_TICKS.map((t) => (
        <g key={t}>
          <line x1={cfg.left - 6} x2={cfg.left} y1={y(t)} y2={y(t)} stroke="#666" strokeWidth={1} />
          <text x={cfg.left - 15} y={y(t)} dy="0.35em" textAnchor="end" fontFamily={FONT} fontSize={11} fill={TXT}>{t}</text>
        </g>
      ))}
      <text transform={`translate(${cfg.leftTitleX},${midY}) rotate(-90)`} textAnchor="middle" dy="0.35em"
        fontFamily={FONT} fontSize={12.5} fill={TXT}>
        {"\u2212log"}<tspan fontSize={8.5} dy="3">10</tspan><tspan dy="-3">(p{"\u2212"}value)</tspan>
      </text>

      {/* right axis */}
      <line x1={rAxisX} x2={rAxisX} y1={yr(0)} y2={yr(100)} stroke={AXIS_BLUE} strokeWidth={1} />
      {RECOMB_TICKS.map((t) => (
        <g key={t}>
          <line x1={rAxisX} x2={rAxisX + 6} y1={yr(t)} y2={yr(t)} stroke={AXIS_BLUE} strokeWidth={1} />
          <text x={rAxisX + 13} y={yr(t)} dy="0.35em" fontFamily={FONT} fontSize={11} fill={AXIS_BLUE}>{t}</text>
        </g>
      ))}
      <text transform={`translate(${cfg.rightTitleX},${midY}) rotate(90)`} textAnchor="middle" dy="0.35em"
        fontFamily={FONT} fontSize={12} fill={AXIS_BLUE}>Recombination rate (cM/Mb)</text>

      {/* variant title */}
      <text x={355} y={cfg.title1Y} dy="0.35em" textAnchor="middle" fontFamily={FONT} fontSize={13.5} fill="#111">{cfg.variant}</text>
      <text x={355} y={cfg.title2Y} dy="0.35em" textAnchor="middle" fontFamily={FONT} fontSize={13.5} fill="#111">{cfg.rsid}</text>

      {/* legend */}
      <rect x={lgX} y={lgY} width={lgW} height={lgH} fill="#fff" stroke="#777" strokeWidth={1} />
      <text x={blkX + 14} y={lgY + 15} fontFamily={FONT} fontSize={11} fill={TXT}>r<tspan fontSize={7} dy="-5">2</tspan></text>
      {legendBins.map(({ c }, k) => (
        <rect key={c} x={blkX} y={blkTop + k * blkH} width={blkW} height={blkH} fill={c} stroke="#555" strokeWidth={0.5} />
      ))}
      {[0.8, 0.6, 0.4, 0.2].map((b, k) => (
        <g key={b}>
          <line x1={blkX + blkW} x2={blkX + blkW + 3} y1={blkTop + (k + 1) * blkH} y2={blkTop + (k + 1) * blkH} stroke="#555" strokeWidth={0.7} />
          <text x={blkX + blkW + 5} y={blkTop + (k + 1) * blkH} dy="0.35em" fontFamily={FONT} fontSize={8.5} fill={TXT}>{b}</text>
        </g>
      ))}

      {/* gene panel */}
      <rect x={cfg.left} y={cfg.gTop} width={cfg.right - cfg.left} height={cfg.gBottom - cfg.gTop}
        fill="none" stroke={BOX_GRAY} strokeWidth={1} />
      <g clipPath={`url(#${gclip})`}>
        {genes.map((g) => {
          const gy = cfg.gTop + 17 + cfg.rowH * g.track;
          const x1 = x(g.start), x2 = x(g.end);
          return (
            <g key={g.name}>
              <line x1={x1} x2={Math.max(x2, x1 + 1)} y1={gy} y2={gy} stroke={GENE_COLOR} strokeWidth={0.9} />
              {g.exons.map((e, k) => (
                <rect key={k} x={x(e) - 1} y={gy - 2.3} width={2} height={4.6} fill={GENE_COLOR} />
              ))}
            </g>
          );
        })}
      </g>
      {genes.map((g) => {
        const ly = cfg.gTop + 9 + cfg.rowH * g.track;
        const cx = x((g.start + g.end) / 2);
        if (g.text) {
          const w = textWidth(g.text, gFont);
          const lx = Math.max(cfg.left + 2, Math.min(cx - w / 2, cfg.right - 2 - w));
          return (
            <text key={g.name + "l"} x={lx} y={ly} dy="0.35em" fontFamily={FONT} fontStyle="italic" fontSize={10} fill="#111">{g.text}</text>
          );
        }
        const arrow = g.strand > 0 ? ARROW_R : ARROW_L;
        const w = textWidth(g.name, gFont) + textWidth(arrow, aFont);
        const lx = Math.max(cfg.left + 2, Math.min(cx - w / 2, cfg.right - 2 - w));
        return (
          <text key={g.name + "l"} x={lx} y={ly} dy="0.35em" fontFamily={FONT} fontStyle="italic" fontSize={10} fill="#111">
            {g.strand > 0 ? (
              <>
                {g.name}
                <tspan fontFamily={ARROW_FONT} fontStyle="normal">{arrow}</tspan>
              </>
            ) : (
              <>
                <tspan fontFamily={ARROW_FONT} fontStyle="normal">{arrow}</tspan>
                {g.name}
              </>
            )}
          </text>
        );
      })}

      {/* x axis */}
      {xTicks.map((t) => (
        <g key={t}>
          <line x1={x(t)} x2={x(t)} y1={cfg.gBottom} y2={cfg.gBottom + 6.5} stroke="#666" strokeWidth={1} />
          <text x={x(t)} y={cfg.tickLabelY} dy="0.35em" textAnchor="middle" fontFamily={FONT} fontSize={11.5} fill={TXT}>{t}</text>
        </g>
      ))}
      <text x={midX} y={cfg.xTitleY} dy="0.35em" textAnchor="middle" fontFamily={FONT} fontSize={11.5} fill={TXT}>
        {`Position on ${cfg.chrom} (Mb)`}
      </text>
    </g>
  );
}

export default function App() {
  return (
    <svg width={709} height={1784} viewBox="0 0 709 1784"
      style={{ position: "absolute", left: 0, top: 0, display: "block", background: "#fff" }}>
      <rect x={0} y={0} width={709} height={1784} fill="#fff" />
      <Panel cfg={CFG_A} snps={SNPS_A} index={INDEX_A} recomb={RECOMB_CHR10} genes={GENES_A} xTicks={X_TICKS_A} />
      <Panel cfg={CFG_B} snps={SNPS_B} index={INDEX_B} recomb={RECOMB_CHR10} genes={GENES_B} xTicks={X_TICKS_B} />
      <Panel cfg={CFG_C} snps={SNPS_C} index={INDEX_C} recomb={RECOMB_CHR17} genes={GENES_C} xTicks={X_TICKS_C} />
      <Panel cfg={CFG_D} snps={SNPS_D} index={INDEX_D} recomb={RECOMB_CHR1} genes={GENES_D} xTicks={X_TICKS_D} />
    </svg>
  );
}
